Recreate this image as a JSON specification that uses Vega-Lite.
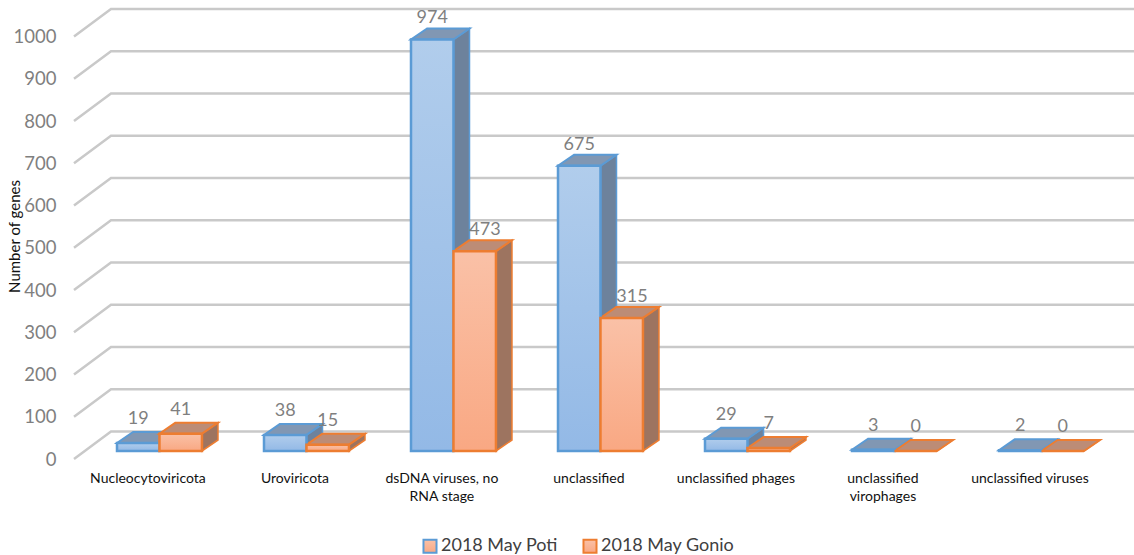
{"$schema":"https://vega.github.io/schema/vega-lite/v6.json","width":1060,"height":459,"padding":{"left":74,"top":0,"right":0,"bottom":96},"autosize":{"type":"none"},"background":"white","config":{"view":{"stroke":null},"font":"Lato"},
"data":{"values":[
{"category":"Nucleocytoviricota","series":"2018 May Poti","value":19},{"category":"Nucleocytoviricota","series":"2018 May Gonio","value":41},
{"category":"Uroviricota","series":"2018 May Poti","value":38},{"category":"Uroviricota","series":"2018 May Gonio","value":15},
{"category":"dsDNA viruses, no RNA stage","series":"2018 May Poti","value":974},{"category":"dsDNA viruses, no RNA stage","series":"2018 May Gonio","value":473},
{"category":"unclassified","series":"2018 May Poti","value":675},{"category":"unclassified","series":"2018 May Gonio","value":315},
{"category":"unclassified phages","series":"2018 May Poti","value":29},{"category":"unclassified phages","series":"2018 May Gonio","value":7},
{"category":"unclassified virophages","series":"2018 May Poti","value":3},{"category":"unclassified virophages","series":"2018 May Gonio","value":0},
{"category":"unclassified viruses","series":"2018 May Poti","value":2},{"category":"unclassified viruses","series":"2018 May Gonio","value":0}]},
"transform":[
{"calculate":"indexof(['Nucleocytoviricota','Uroviricota','dsDNA viruses, no RNA stage','unclassified','unclassified phages','unclassified virophages','unclassified viruses'],datum.category)","as":"i"},
{"calculate":"datum.series=='2018 May Poti'?0:1","as":"s"},
{"calculate":"datum.i+datum.s*0.289","as":"x0"},
{"calculate":"datum.x0+0.289","as":"x1"},
{"calculate":"[0,1]","as":"t"}],
"encoding":{
"x":{"field":"px","type":"quantitative","scale":{"domain":[-0.2925,6.9184],"nice":false,"zero":false},"axis":{"title":null,"values":[0.207,1.207,2.207,3.207,4.207,5.207,6.207],"grid":false,"domain":false,"ticks":false,"tickSize":0,"labelPadding":0,"offset":12,"labelFontSize":14,"labelColor":"#111111","labelFlush":false,"labelOverlap":false,"labelBound":false,"labelLineHeight":18,
"labelExpr":"[['Nucleocytoviricota'],['Uroviricota'],['dsDNA viruses, no','RNA stage'],['unclassified'],['unclassified phages'],['unclassified','virophages'],['unclassified viruses']][round(datum.value-0.207)]"}},
"y":{"field":"py","type":"quantitative","scale":{"domain":[0,1086.4],"nice":false,"zero":false},"axis":{"title":"Number of genes","titleFontSize":15,"titleFontWeight":"normal","titleColor":"#111111","titleX":-52,"titleY":236,"values":[0,100,200,300,400,500,600,700,800,900,1000],"format":"d","grid":false,"domain":false,"ticks":false,"tickSize":0,"labelPadding":18,"labelFontSize":18.5,"labelColor":"#7f7f7f","labelOverlap":false,"labelBound":false,"labelFlush":false}}},
"layer":[
{"data":{"values":[{"tick":0},{"tick":100},{"tick":200},{"tick":300},{"tick":400},{"tick":500},{"tick":600},{"tick":700},{"tick":800},{"tick":900},{"tick":1000}]},
"transform":[{"calculate":"[0,1,2]","as":"t"},{"flatten":["t"]},{"calculate":"[-0.2925,-0.0408,6.9184][datum.t]","as":"px"},{"calculate":"datum.tick+(datum.t>0?65:0)","as":"py"}],
"mark":{"type":"line","stroke":"#c9c9c9","strokeWidth":2.5,"clip":false},"encoding":{"detail":{"field":"tick"},"order":{"field":"t"}}},
{"transform":[{"filter":"datum.s==0"},{"flatten":["t"]},{"calculate":"datum.x1+datum.t*0.109","as":"px"},{"calculate":"datum.value+19+datum.t*26","as":"py"},{"calculate":"19+datum.t*26","as":"py2"}],
"mark":{"type":"area","fill":"#6d829c","stroke":"#5b9bd5","strokeWidth":1.5,"opacity":1},"encoding":{"detail":{"field":"category"},"y2":{"field":"py2"}}},
{"transform":[{"filter":"datum.s==0"},{"flatten":["t"]},{"calculate":"datum.x0+datum.t*0.109","as":"px"},{"calculate":"datum.x1+datum.t*0.109","as":"px2"},{"calculate":"datum.value+19+datum.t*26","as":"py"}],
"mark":{"type":"area","orient":"horizontal","fill":"#8197b3","stroke":"#5b9bd5","strokeWidth":2},"encoding":{"detail":{"field":"category"},"x2":{"field":"px2"}}},
{"transform":[{"filter":"datum.s==1"},{"flatten":["t"]},{"calculate":"datum.x1+datum.t*0.109","as":"px"},{"calculate":"datum.value+19+datum.t*26","as":"py"},{"calculate":"19+datum.t*26","as":"py2"}],
"mark":{"type":"area","fill":"#9d7460","stroke":"#ed7d31","strokeWidth":1.5},"encoding":{"detail":{"field":"category"},"y2":{"field":"py2"}}},
{"transform":[{"filter":"datum.s==1"},{"flatten":["t"]},{"calculate":"datum.x0+datum.t*0.109","as":"px"},{"calculate":"datum.x1+datum.t*0.109","as":"px2"},{"calculate":"datum.value+19+datum.t*26","as":"py"}],
"mark":{"type":"area","orient":"horizontal","fill":"#bc8c76","stroke":"#ed7d31","strokeWidth":2},"encoding":{"detail":{"field":"category"},"x2":{"field":"px2"}}},
{"transform":[{"calculate":"datum.x0","as":"px"},{"calculate":"datum.x1","as":"px2"},{"calculate":"datum.value+19","as":"py"},{"calculate":"19","as":"py2"}],
"mark":{"type":"rect","strokeWidth":2.5},
"encoding":{"x2":{"field":"px2"},"y2":{"field":"py2"},
"fill":{"condition":{"test":"datum.s==0","value":{"gradient":"linear","x1":0,"y1":0,"x2":0,"y2":1,"stops":[{"offset":0,"color":"#b1cdec"},{"offset":1,"color":"#93b9e6"}]}},"value":{"gradient":"linear","x1":0,"y1":0,"x2":0,"y2":1,"stops":[{"offset":0,"color":"#fac1a7"},{"offset":1,"color":"#f9a883"}]}},
"stroke":{"field":"series","type":"nominal","scale":{"domain":["2018 May Poti","2018 May Gonio"],"range":["#5b9bd5","#ed7d31"]},"legend":{"title":null,"orient":"none","legendX":347,"legendY":537,"direction":"horizontal","columns":2,"symbolType":"square","symbolSize":170,"symbolStrokeWidth":2,"labelFontSize":18,"labelColor":"#404040","columnPadding":21,"labelLimit":200,"labelOffset":2,"encode":{"symbols":{"update":{"fill":{"signal":"datum.value=='2018 May Poti'?'#a3c3e9':'#f9b495'"}}}}}}}},
{"transform":[{"calculate":"datum.x0+0.1445+((datum.s==1&&datum.value>300)?0.07:0)","as":"px"},{"calculate":"datum.value+(datum.value>300?69:76)","as":"py"}],
"mark":{"type":"text","fontSize":18,"color":"#7f7f7f","baseline":"middle"},"encoding":{"text":{"field":"value","type":"quantitative"}}}
]}
